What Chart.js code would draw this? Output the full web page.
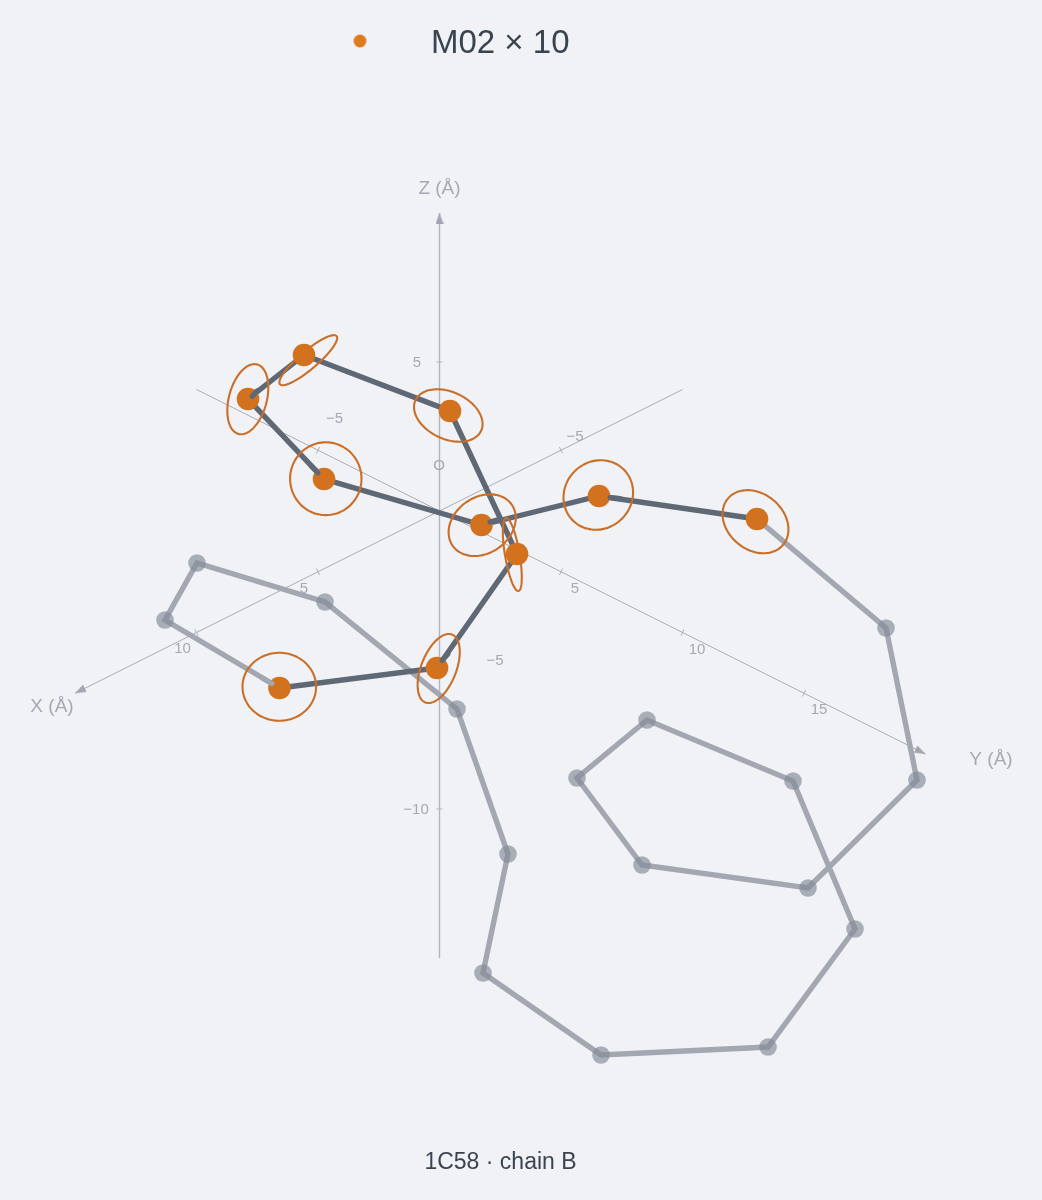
<!DOCTYPE html>
<html><head><meta charset="utf-8">
<script src="https://cdn.jsdelivr.net/npm/chart.js@4"></script>
<style>html,body{margin:0;padding:0;background:#f0f2f5}canvas{display:block}</style>
</head><body><canvas id="c" width="1042" height="1200" style="width:1042px;height:1200px"></canvas>
<script>
// Chain trace as projected on the picture
const metalX = [279.5,437,517,450,304,248,324,481.5,599,757];
const metalY = [688,668,554,411,355,399,479,525,496,519];
const restX = [757,886,917,808,642,577,647,793,855,768,601,483,508,457,325,197,165,279.5];
const restY = [519,628,780,888,865,778,720,781,929,1047,1055,973,854,709,602,563,620,688];
// Ellipsoid outlines
const ellCx = [279.3,438.7,512.3,448.3,308.3,247.8,325.8,482.2,598.3,755.5];
const ellCy = [686.8,668.5,554.6,415.5,360.2,399.2,478.7,525.2,495,521.7];
const ellA = [36.8,36.5,37,36.2,37.2,36,36.4,36,36,36];
const ellB = [34,17.5,7.3,23.5,9,18.9,35.7,28,33.5,28];
const ellRot = [0,-68.5,80.4,25,-40.4,-75,90,-35,-45,40];
// Line tips that lie over the dots
const tipX = [257,252,null,311,318,null,497,490,null,620,610,null,448,442];
const tipY = [391,396.5,null,466,473,null,520,522,null,498.5,497.5,null,654,660.5];
const restTipX = [262,272];
const restTipY = [678,683.5];
// Axes
const xTicks = [-5,5,10];
const yTicks = [-5,5,10,15];
const zTicks = [-5,-10,5];
const xRange = [-10,15];
const yRange = [-10,20];
const zRange = [-15,10];
const legendText = 'M02 × 10';
const titleText = '1C58 · chain B';
const axisNames = ['X (Å)','Y (Å)','Z (Å)'];
const tickTexts = ['−5','5','10','−5','5','10','15','5','−5','−10','O'];

const O = {x:439.5,y:511};
const U = {x:[-24.3,12.15],y:[24.3,12.15],z:[0,-29.8]};
const P = (k,v)=>({x:O.x+U[k][0]*v,y:O.y+U[k][1]*v});
const tickLabelPos = [[575,437],[304,588.5],[182.5,649],[334.5,418.5],[575,589],[697,649.5],[819,710],[417,363],[495,661],[416,810],[439,466]];
const axisNamePos = [[52,707],[991,760],[439.5,189]];

const COL = {bg:'#f0f2f5',orange:'#d2711e',ell:'#c96f2a',dark:'#5f6875',gray:'#a3a7b1',node:'rgba(130,138,152,0.66)',axis:'#a9adb6',zaxis:'#b1b5c0',label:'#a4a9b4',text:'#3a4450'};

function arrowCanvas(){
  const c=document.createElement('canvas');c.width=8;c.height=22;
  const g=c.getContext('2d');g.fillStyle='#a0a5b0';g.beginPath();g.moveTo(4,11);g.lineTo(8,22);g.lineTo(0,22);g.closePath();g.fill();
  return c;
}
function legendDot(){
  const c=document.createElement('canvas');c.width=387;c.height=34;
  const g=c.getContext('2d');g.fillStyle='#de7a20';g.beginPath();g.arc(332.5,14,6.4,0,Math.PI*2);g.fill();
  return c;
}
const arrow=arrowCanvas();
const xy=(xs,ys)=>xs.map((x,i)=>(x===null?{x:NaN,y:NaN}:{x,y:ys[i]}));
function ellipse(i){
  const pts=[],r=ellRot[i]*Math.PI/180;
  for(let k=0;k<=90;k++){const t=k/90*2*Math.PI,u=ellA[i]*Math.cos(t),v=ellB[i]*Math.sin(t);
    pts.push({x:ellCx[i]+u*Math.cos(r)-v*Math.sin(r),y:ellCy[i]+u*Math.sin(r)+v*Math.cos(r)});}
  return pts;
}
function axisDs(k,range,ticks,color,w,rot,order,tickDir){
  const a=P(k,range[0]),b=P(k,range[1]);
  const ds=[{label:k+' axis',data:[a,b],showLine:true,borderColor:color,borderWidth:w,pointRadius:[0,6],pointStyle:arrow,pointRotation:rot,order}];
  const t=[];
  ticks.forEach(v=>{const p=P(k,v);t.push({x:p.x-tickDir[0],y:p.y-tickDir[1]},{x:p.x+tickDir[0],y:p.y+tickDir[1]},{x:NaN,y:NaN});});
  ds.push({label:k+' ticks',data:t,showLine:true,spanGaps:false,borderColor:color,borderWidth:1,pointRadius:0,order});
  return ds;
}
const datasets=[
  ...axisDs('x',xRange,xTicks,COL.axis,1,-116.6,20,[1.6,3.2]),
  ...axisDs('y',yRange,yTicks,COL.axis,1,116.6,20,[1.6,-3.2]),
  ...axisDs('z',zRange,zTicks,COL.zaxis,1.4,0,20,[3,0]),
  {label:'rest line',data:xy(restX,restY),showLine:true,borderColor:COL.gray,borderWidth:5.4,pointRadius:0,order:12},
  {label:'rest nodes',data:xy(restX.slice(1,-1),restY.slice(1,-1)),showLine:false,pointRadius:8.8,pointBorderWidth:0,pointBackgroundColor:COL.node,order:11},
  {label:'backbone',data:xy(metalX,metalY),showLine:true,borderColor:COL.dark,borderWidth:5.4,pointRadius:0,order:10},
  ...ellCx.map((_,i)=>({label:'ellipse '+(i+1),data:ellipse(i),showLine:true,tension:0.1,borderColor:COL.ell,borderWidth:2.1,pointRadius:0,order:9})),
  {label:legendText,data:xy(metalX,metalY),showLine:false,pointRadius:11.3,pointBorderWidth:0,pointBackgroundColor:COL.orange,order:5},
  {label:'tips',data:xy(tipX,tipY),showLine:true,spanGaps:false,borderColor:COL.dark,borderWidth:5,borderCapStyle:'round',pointRadius:0,order:4},
  {label:'rest tip',data:xy(restTipX,restTipY),showLine:true,borderColor:COL.gray,borderWidth:5,borderCapStyle:'round',pointRadius:0,order:4}
];
const labelsPlugin={id:'axisLabels',afterDatasetsDraw(ch){
  const g=ch.ctx,sx=ch.scales.x,sy=ch.scales.y;
  g.save();g.textAlign='center';g.textBaseline='middle';g.fillStyle=COL.label;
  g.font='15px "Liberation Sans"';
  tickTexts.forEach((t,i)=>g.fillText(t,sx.getPixelForValue(tickLabelPos[i][0]),sy.getPixelForValue(tickLabelPos[i][1])));
  g.font='19px "Liberation Sans"';
  axisNames.forEach((t,i)=>g.fillText(t,sx.getPixelForValue(axisNamePos[i][0]),sy.getPixelForValue(axisNamePos[i][1])));
  g.restore();
}};
new Chart(document.getElementById('c'),{
  type:'scatter',
  data:{datasets},
  plugins:[labelsPlugin],
  options:{
    responsive:false,animation:false,devicePixelRatio:1,
    layout:{padding:{left:0,top:0,bottom:0,right:41},autoPadding:false},
    scales:{
      x:{type:'linear',display:false,min:0,max:1001},
      y:{type:'linear',display:false,reverse:true,min:70.5,max:1126}
    },
    plugins:{
      tooltip:{enabled:false},
      title:{display:true,fullSize:false,text:titleText,position:'bottom',color:COL.text,font:{family:'"Liberation Sans"',size:23,weight:'normal',lineHeight:1.2},padding:23.2},
      legend:{display:true,position:'top',align:'start',
        labels:{usePointStyle:true,pointStyleWidth:387,padding:27.5,color:COL.text,font:{family:'"Liberation Sans"',size:33},
          generateLabels:()=>[{text:legendText,fontColor:COL.text,pointStyle:legendDot(),fillStyle:COL.orange,strokeStyle:COL.orange,lineWidth:0,hidden:false,datasetIndex:datasets.length-3}]}}
    }
  }
});
</script></body></html>
